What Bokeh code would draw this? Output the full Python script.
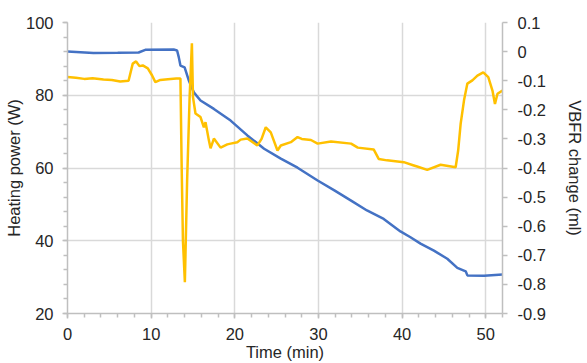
from bokeh.plotting import figure
from bokeh.models import (Range1d, LinearAxis, SingleIntervalTicker, FixedTicker,
                          CustomJSTickFormatter)
from bokeh.embed import file_html
from bokeh.resources import INLINE

# Heating power (left axis, W)
time_power = [0, 1, 2, 3, 4.3, 5.3, 6.3, 7.3, 7.8, 8.2, 8.6, 9.0, 9.6, 10.1, 10.5, 11.1, 12, 13,
              13.5, 13.65, 13.8, 14.03, 14.3, 14.6, 14.87, 15.0, 15.3, 15.9, 16.3, 16.5, 16.9,
              17.1, 17.5, 18.3, 19.1, 19.5, 20.3, 20.7, 21.5, 22.7, 23.2, 23.7, 24.3, 25.1,
              25.5, 26.7, 27.5, 28.0, 29.1, 29.9, 31.5, 33.9, 34.7, 36.6, 37.2, 38.2, 40.2,
              41.4, 41.8, 43.0, 44.6, 46.4, 46.7, 47.0, 47.4, 47.8, 48.4, 49.0, 49.7, 50.3,
              50.8, 51.1, 51.4, 52.0]
power = [85, 84.8, 84.5, 84.7, 84.3, 84.2, 83.8, 84.0, 88.7, 89.3, 88.0, 88.2, 87.4, 85.5, 83.6,
         84.2, 84.4, 84.6, 84.6, 60, 40, 28.6, 56.6, 79.5, 94.3, 79.5, 75, 74, 71.2, 72.6, 67.6,
         65.4, 68.1, 65.6, 66.5, 66.7, 67.1, 67.8, 68.1, 66.2, 68.0, 71.2, 69.8, 64.8, 66.2,
         67.1, 68.5, 68.0, 67.7, 66.7, 67.3, 66.7, 65.6, 65.1, 62.5, 62.1, 61.6, 60.7, 60.4,
         59.5, 60.9, 60.2, 64.8, 72.2, 78.6, 83.2, 84.1, 85.4, 86.3, 85, 81.3, 77.6, 80.4, 81.3]

# VBFR change (right axis, ml)
time_vbfr = [0, 3.1, 6, 8.5, 9.3, 12.7, 13.1, 13.3, 13.5, 14.0, 14.5, 15.1, 15.9, 17.5, 19.5,
             21.5, 23.5, 25.5, 27.5, 29.9, 31.9, 33.9, 35.8, 37.8, 39.8, 41.0, 42.2, 43.8,
             45.4, 46.6, 47.6, 47.8, 49.8, 52.0]
vbfr = [0.0, -0.005, -0.004, -0.003, 0.006, 0.007, 0.004, -0.019, -0.048, -0.054, -0.099,
        -0.14, -0.168, -0.197, -0.237, -0.288, -0.334, -0.368, -0.399, -0.443, -0.477, -0.512,
        -0.546, -0.575, -0.618, -0.638, -0.66, -0.684, -0.712, -0.743, -0.755, -0.769, -0.77,
        -0.766]

right_ticks = [0.1, 0.0, -0.1, -0.2, -0.3, -0.4, -0.5, -0.6, -0.7, -0.8, -0.9]

FONT = "Liberation Sans"
TXT = "#262626"
AXC = "#bfbfbf"
GRID = "#d9d9d9"
FS = "16.5px"

p = figure(width=587, height=363, output_backend="svg", toolbar_location=None,
           x_range=Range1d(0, 52), y_range=Range1d(20, 100),
           min_border_left=67, min_border_right=85, min_border_top=22, min_border_bottom=50)
p.outline_line_color = None
p.background_fill_color = "white"
p.border_fill_color = "white"

p.extra_y_ranges = {"vbfr": Range1d(-0.9, 0.1)}

p.line(time_vbfr, vbfr, y_range_name="vbfr", line_color="#4472C4", line_width=2.5)
p.line(time_power, power, line_color="#FFC000", line_width=2.5)

xa = p.xaxis[0]
xa.ticker = SingleIntervalTicker(interval=10, num_minor_ticks=5)
xa.axis_label = "Time (min)"
ya = p.yaxis[0]
ya.ticker = SingleIntervalTicker(interval=20, num_minor_ticks=5)
ya.axis_label = "Heating power (W)"

ra = LinearAxis(y_range_name="vbfr", axis_label="VBFR change (ml)",
                ticker=FixedTicker(ticks=right_ticks, minor_ticks=[]),
                formatter=CustomJSTickFormatter(code="return (Math.round(tick*10)/10).toString();"))
p.add_layout(ra, "right")

for ax in [xa, ya, ra]:
    ax.axis_line_color = AXC
    ax.axis_line_width = 1.5
    ax.major_tick_line_color = AXC
    ax.minor_tick_line_color = AXC
    ax.major_tick_line_width = 1.5
    ax.minor_tick_line_width = 1.5
    ax.major_tick_in = 0
    ax.major_tick_out = 5
    ax.minor_tick_in = 0
    ax.minor_tick_out = 4
    ax.major_label_text_font = FONT
    ax.major_label_text_font_size = FS
    ax.major_label_text_color = TXT
    ax.axis_label_text_font = FONT
    ax.axis_label_text_font_size = FS
    ax.axis_label_text_font_style = "normal"
    ax.axis_label_text_color = TXT

xa.major_label_standoff = 9
ya.major_label_standoff = 9
ra.major_label_standoff = 10
ya.axis_label_standoff = 0
ra.axis_label_standoff = 17
xa.axis_label_standoff = 0

p.xgrid.grid_line_color = GRID
p.xgrid.grid_line_width = 1.5
p.ygrid.grid_line_color = GRID
p.ygrid.grid_line_width = 1.5

open("out.html", "w").write(file_html(p, INLINE))
